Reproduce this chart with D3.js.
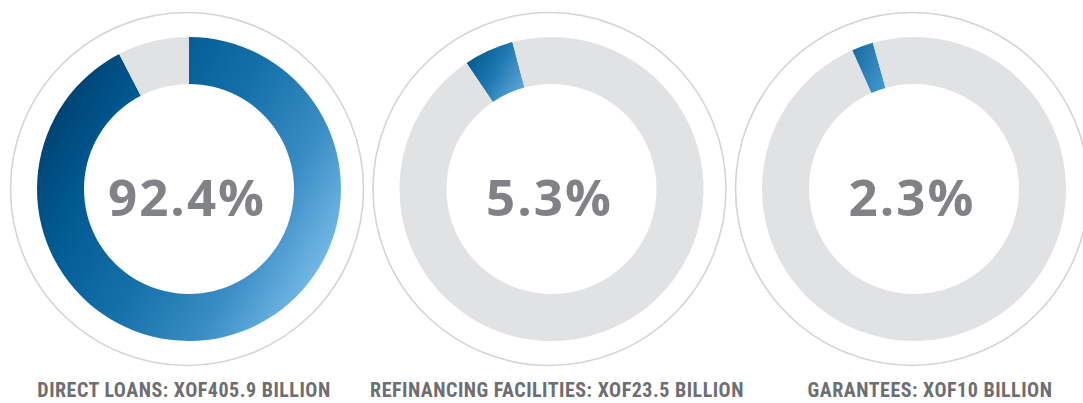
<!DOCTYPE html>
<html>
<head>
<meta charset="utf-8">
<script src="https://cdn.jsdelivr.net/npm/d3@7"></script>
<style>
  body { margin: 0; background: #fff; }
  svg { display: block; }
</style>
</head>
<body>
<div id="chart"></div>
<script>
// data
var categories = ["DIRECT LOANS", "REFINANCING FACILITIES", "GARANTEES"];
var amounts = [405.9, 23.5, 10];          // XOF billion
var shares = [92.4, 5.3, 2.3];            // percent

// where each blue slice starts (degrees from 12 o'clock)
var startDeg = [0, -34, -24];

var width = 1083, height = 403;

var svg = d3.select("#chart").append("svg")
    .attr("width", width)
    .attr("height", height);

var x = d3.scalePoint().domain(categories).range([189, 914]);
var xLabel = d3.scalePoint().domain(categories).range([184, 930]);
var cy = 189;

var arc = d3.arc().innerRadius(105).outerRadius(152);

// gradients
var defs = svg.append("defs");
var grads = [
  { id: "g0", units: "userSpaceOnUse", x1: -150, y1: -87, x2: 150, y2: 87,
    stops: [[0, "#003b69"], [0.22, "#005890"], [0.5, "#1570a9"], [0.75, "#3b8ec6"], [1, "#84c4ee"]] },
  { id: "g1", units: "objectBoundingBox", x1: 0, y1: 0.2, x2: 1, y2: 0.8,
    stops: [[0, "#00548a"], [0.5, "#2079b2"], [1, "#62a9da"]] },
  { id: "g2", units: "objectBoundingBox", x1: 0, y1: 0.2, x2: 1, y2: 0.8,
    stops: [[0, "#196ca4"], [1, "#3f98cd"]] }
];
grads.forEach(function(g) {
  var lg = defs.append("linearGradient")
      .attr("id", g.id)
      .attr("gradientUnits", g.units)
      .attr("x1", g.x1).attr("y1", g.y1)
      .attr("x2", g.x2).attr("y2", g.y2);
  g.stops.forEach(function(s) {
    lg.append("stop").attr("offset", s[0]).attr("stop-color", s[1]);
  });
});

categories.forEach(function(cat, i) {
  var g = svg.append("g")
      .attr("transform", "translate(" + x(cat) + "," + cy + ")");

  // thin outer circle
  g.append("circle")
      .attr("cx", -2)
      .attr("r", 176.5)
      .style("fill", "none")
      .style("stroke", "#d4d4d4")
      .style("stroke-width", 1.6);

  var s = startDeg[i] * Math.PI / 180;
  var pie = d3.pie().sort(null).value(function(d) { return d; })
      .startAngle(s).endAngle(s + 2 * Math.PI);

  g.selectAll("path.slice")
      .data(pie([shares[i], 100 - shares[i]]))
      .enter().append("path")
      .attr("class", "slice")
      .attr("d", arc)
      .style("fill", function(d, j) { return j === 0 ? "url(#g" + i + ")" : "#e1e2e4"; });

  g.append("text")
      .attr("x", -2)
      .attr("y", 27)
      .style("fill", "#808285")
      .style("font-family", "'Open Sans', sans-serif")
      .style("font-weight", "bold")
      .style("font-size", "51px")
      .style("letter-spacing", "2px")
      .attr("text-anchor", "middle")
      .text(d3.format(".1f")(shares[i]) + "%");

  svg.append("text")
      .attr("x", xLabel(cat))
      .attr("y", 397)
      .style("fill", "#6d6e71")
      .style("font-family", "'Liberation Sans Narrow', 'Roboto Condensed', sans-serif")
      .style("font-weight", "bold")
      .style("font-size", "20px")
      .style("letter-spacing", "0.5px")
      .attr("text-anchor", "middle")
      .text(cat + ": XOF" + amounts[i] + " BILLION");
});
</script>
</body>
</html>
